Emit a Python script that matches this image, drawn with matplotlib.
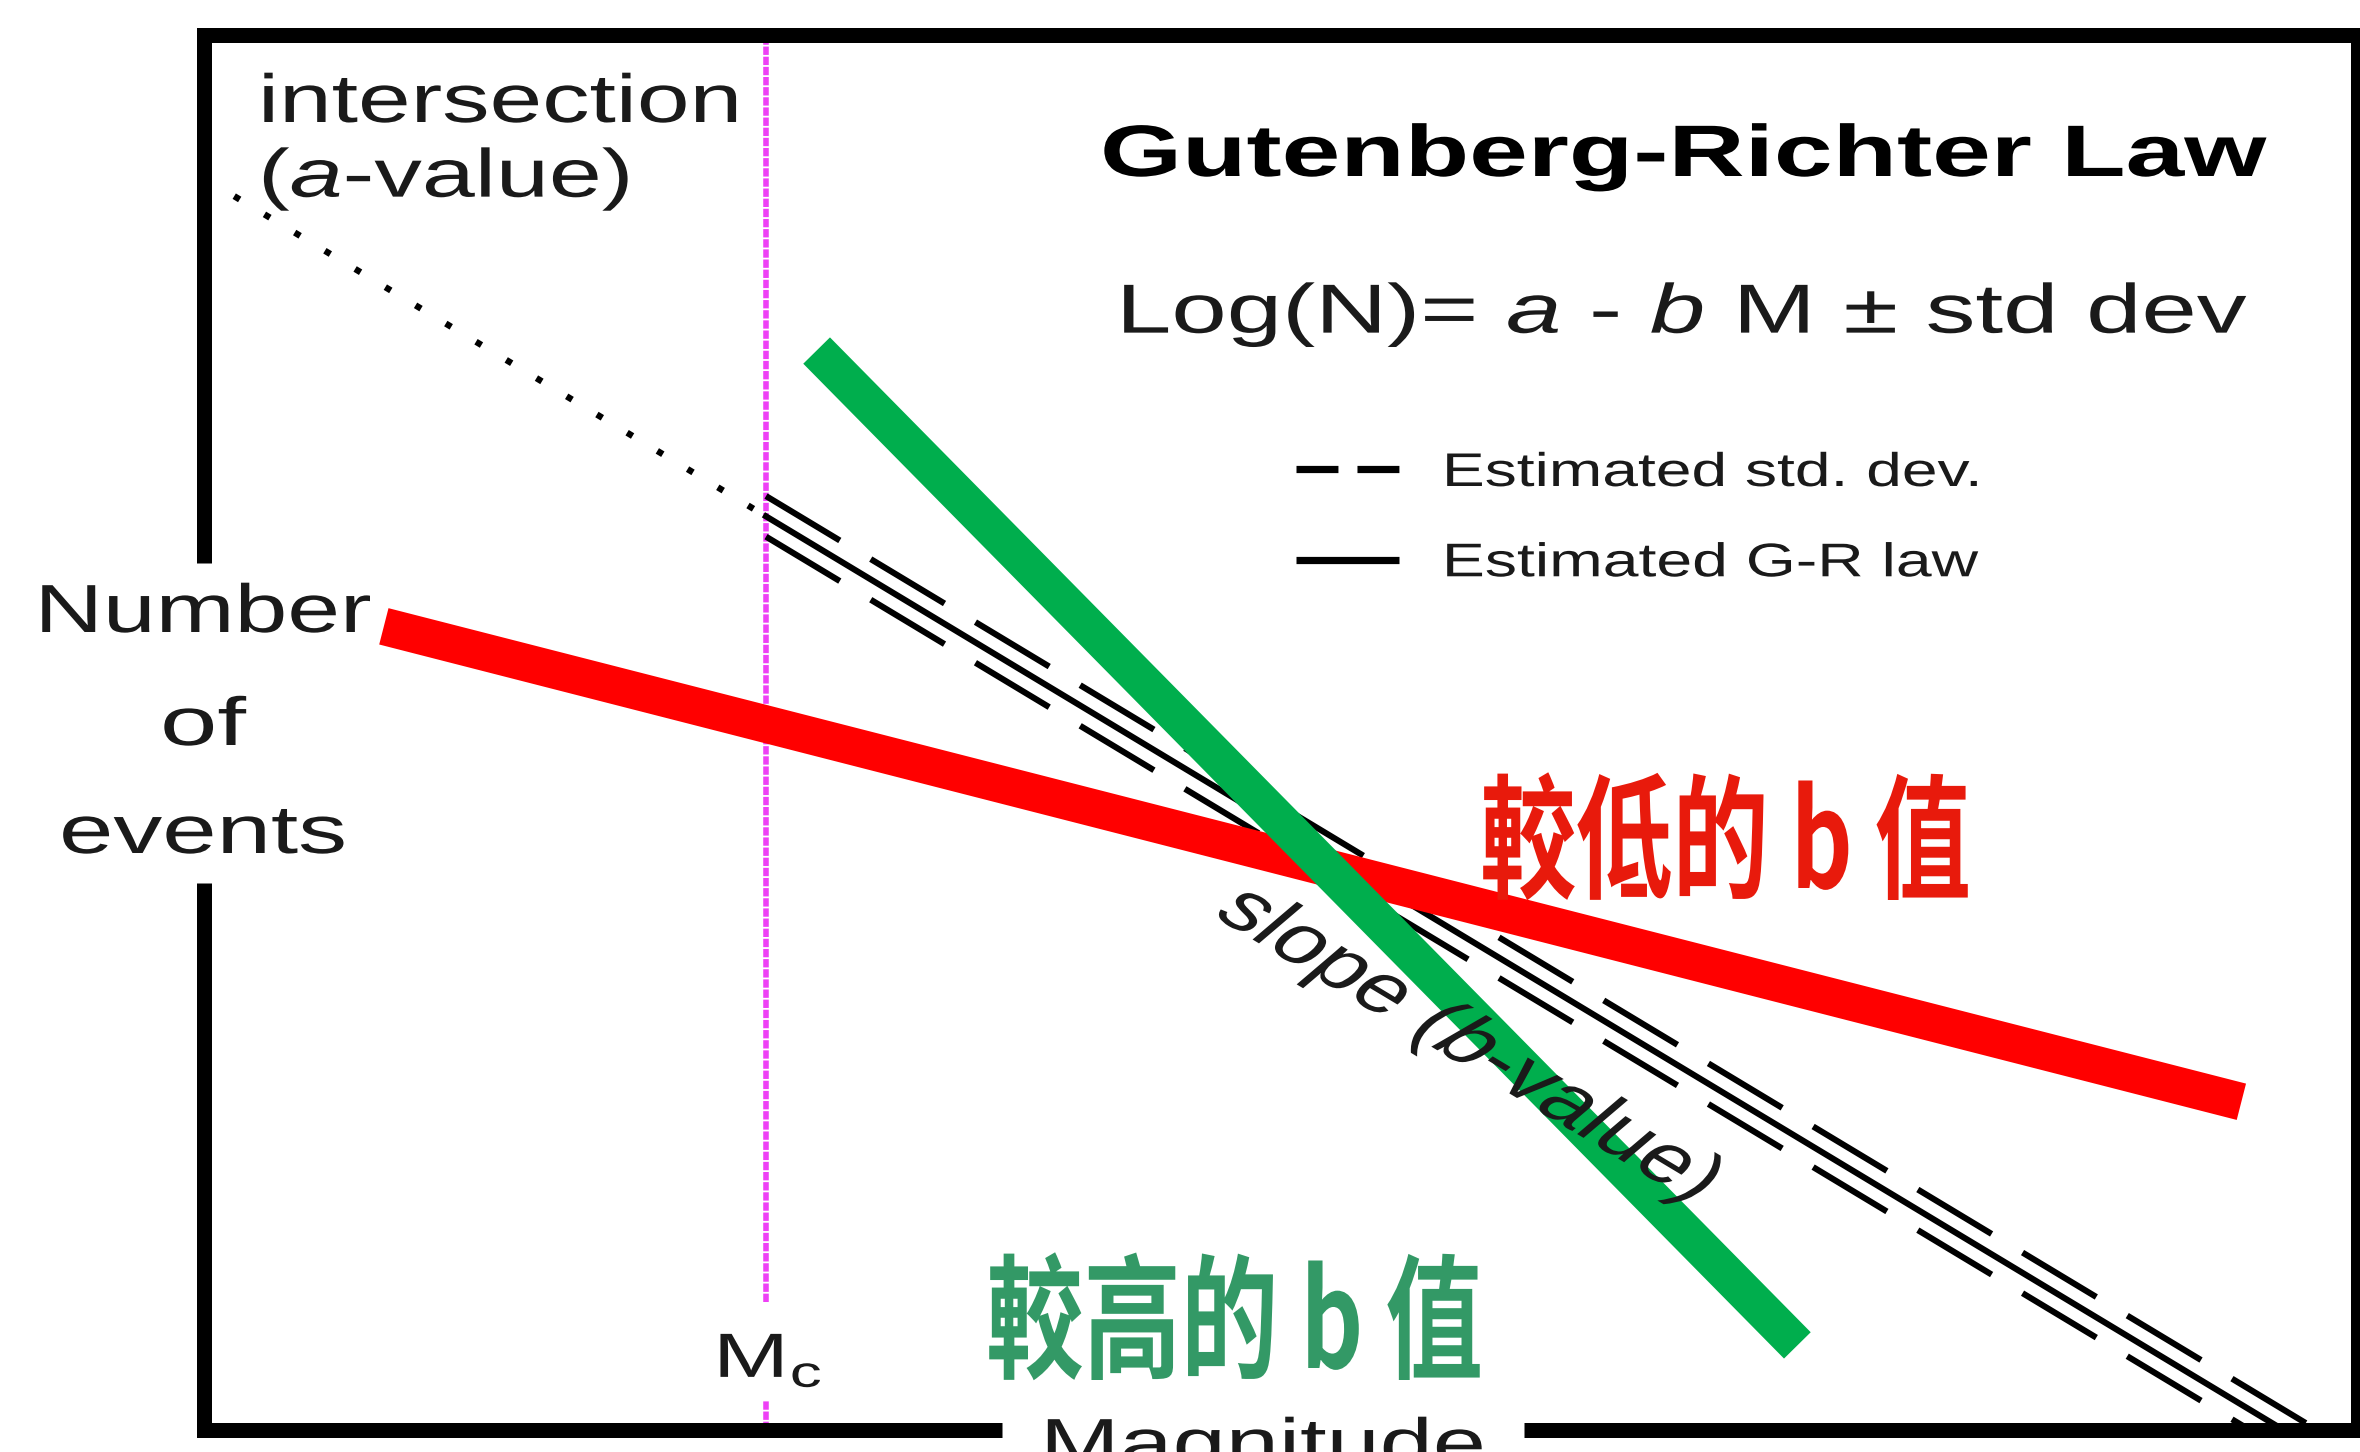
import matplotlib
matplotlib.use("Agg")
import matplotlib.pyplot as plt
from matplotlib.lines import Line2D
from matplotlib.patheffects import AbstractPathEffect
from matplotlib.transforms import Affine2D
import numpy as np

plt.rcParams["lines.scale_dashes"] = False
plt.rcParams["mathtext.fontset"] = "custom"
plt.rcParams["mathtext.rm"] = "Liberation Sans"
plt.rcParams["mathtext.it"] = "Liberation Sans:italic"
plt.rcParams["font.family"] = ["Liberation Sans", "DejaVu Sans"]

# ---- schematic Gutenberg-Richter values (magnitude M, log10 N) ----
a_value = 7.4          # intercept of the fitted law
b_value = 1.0          # slope of the fitted law
mc = 2.0               # magnitude of completeness
m_end = 7.6            # fitted law drawn up to here (clipped at log N = 0)
std_offset = 0.12      # std-dev band half width, log units

low_b_m = [0.64, 7.25]        # red line: lower b-value
low_b_logn = [4.75, 1.94]
high_b_m = [2.18, 5.67]       # green line: higher b-value
high_b_logn = [6.38, 0.50]

x_limits = (0, 7.665)
y_limits = (0, 8.245)

title = "Gutenberg-Richter Law"
formula = "Log(N)= $a$ - $b$ M ± std dev"
legend_labels = ["Estimated std. dev.", "Estimated G-R law"]
low_label = "較低的 b 值"
high_label = "較高的 b 值"

W, H = 2360, 1452
INK = "#1a1a1a"


class Stretch(AbstractPathEffect):
    """Horizontally widen glyph outlines about a fixed display x."""

    def __init__(self, sx, x0):
        super().__init__()
        self.sx, self.x0 = sx, x0

    def draw_path(self, renderer, gc, tpath, affine, rgbFace=None):
        extra = Affine2D().translate(-self.x0, 0).scale(self.sx, 1).translate(self.x0, 0)
        renderer.draw_path(gc, tpath, affine + extra, rgbFace)


fig = plt.figure(figsize=(W / 100, H / 100), dpi=100)
fig.patch.set_facecolor("white")
ax = fig.add_axes([204 / W, (H - 1430) / H, 2154 / W, 1395 / H])
ax.set_xlim(*x_limits)
ax.set_ylim(*y_limits)
ax.axis("off")

# magnitude of completeness marker, broken around its label
gap_lo, gap_hi = 0.177, 0.757
for y0, y1 in ((gap_hi, y_limits[1]), (y_limits[0], gap_lo)):
    ax.plot([mc, mc], [y0, y1], color="#ee40f6", lw=4.0, dashes=(6, 1.3),
            zorder=1, clip_on=False)

# extrapolation below Mc
m_ext = np.array([0.0, mc])
ax.plot(m_ext, a_value - b_value * m_ext, color="k", lw=4.6,
        dashes=(4.6, 20.8), dash_capstyle="butt", zorder=2)

# fitted law and its std-dev band
m_fit = np.array([mc, m_end])
logn_fit = a_value - b_value * m_fit
ax.plot(m_fit, logn_fit, color="k", lw=4.4, zorder=2)
for s in (-1, 1):
    ax.plot(m_fit, logn_fit + s * std_offset, color="k", lw=4.4,
            dashes=(62, 26), dash_capstyle="butt", zorder=2)

# alternative slopes
ax.plot(low_b_m, low_b_logn, color="#ff0000", lw=27, solid_capstyle="butt", zorder=4)
ax.plot(high_b_m, high_b_logn, color="#00ae4d", lw=27, solid_capstyle="butt", zorder=5)

# heavy frame with openings for the axis titles
frame_kw = dict(color="black", lw=10.8, solid_capstyle="butt", solid_joinstyle="miter",
                transform=ax.transAxes, clip_on=False, zorder=6)
ax.add_line(Line2D([0, 0, 1, 1, 0.613], [0.6215, 1, 1, 0, 0], **frame_kw))
ax.add_line(Line2D([0.3705, 0, 0], [0, 0, 0.392], **frame_kw))


def ftext(x, y, s, **kw):
    kw.setdefault("color", INK)
    kw.setdefault("va", "baseline")
    kw.setdefault("zorder", 7)
    return fig.text(x / W, 1 - y / H, s, transform=fig.transFigure, **kw)


# (text, target ink width in px, anchor: 'left' / 'center')
wide = [
    (ftext(258, 122, "intersection", fontsize=49), 484, "left"),
    (ftext(258, 197, "($a$-value)", fontsize=49), 372, "left"),
    (ftext(1100, 176, title, fontsize=52.5, fontweight="bold", color="black"), 1166, "left"),
    (ftext(1116, 333, formula, fontsize=50), 1134, "left"),
    (ftext(203, 632, "Number", fontsize=49, ha="center"), 337, "center"),
    (ftext(203, 745, "of", fontsize=49, ha="center"), 86, "center"),
    (ftext(203, 853, "events", fontsize=49, ha="center"), 288, "center"),
    (ftext(713, 1377, "M$_{\\mathrm{c}}$", fontsize=45), 110, "left"),
    (ftext(1263, 1466, "Magnitude", fontsize=49, ha="center"), 446, "center"),
    (ftext(1480, 888, low_label, fontsize=97, color="#e81a0c", fontweight="bold",
           family=["Noto Sans CJK TC"]), 491, "left"),
    (ftext(986, 1368, high_label, fontsize=97, color="#339966", fontweight="bold",
           family=["Noto Sans CJK TC"]), 497, "left"),
]

# slope annotation, running under the fitted law
slope_txt = ftext(1467, 1045, "slope ($b$-value)", fontsize=49, ha="center",
                  va="center", rotation=-40, rotation_mode="anchor", zorder=3)
slope_txt.set_path_effects([Stretch(1.4, 1467)])

# legend
h_std = Line2D([], [], color="k", lw=5.2, dashes=(30.2, 13.7), dash_capstyle="butt")
h_fit = Line2D([], [], color="k", lw=5.2, solid_capstyle="butt")
leg = fig.legend([h_std, h_fit], legend_labels, loc="upper left",
                 bbox_to_anchor=(1296 / W, 1 - 452 / H), frameon=False,
                 fontsize=34, handlelength=2.18, handletextpad=0.91,
                 labelspacing=0.98, borderpad=0, borderaxespad=0)
for t in leg.get_texts():
    t.set_color(INK)

fig.canvas.draw()
renderer = fig.canvas.get_renderer()

legend_widths = [541, 536]
for t, w in zip(leg.get_texts(), legend_widths):
    bb = t.get_window_extent(renderer)
    t.set_path_effects([Stretch(w / bb.width, bb.x0)])

for t, w, mode in wide:
    bb = t.get_window_extent(renderer)
    x0 = bb.x0 if mode == "left" else 0.5 * (bb.x0 + bb.x1)
    t.set_path_effects([Stretch(w / bb.width, x0)])

fig.savefig("out.png", dpi=100, facecolor="white")
